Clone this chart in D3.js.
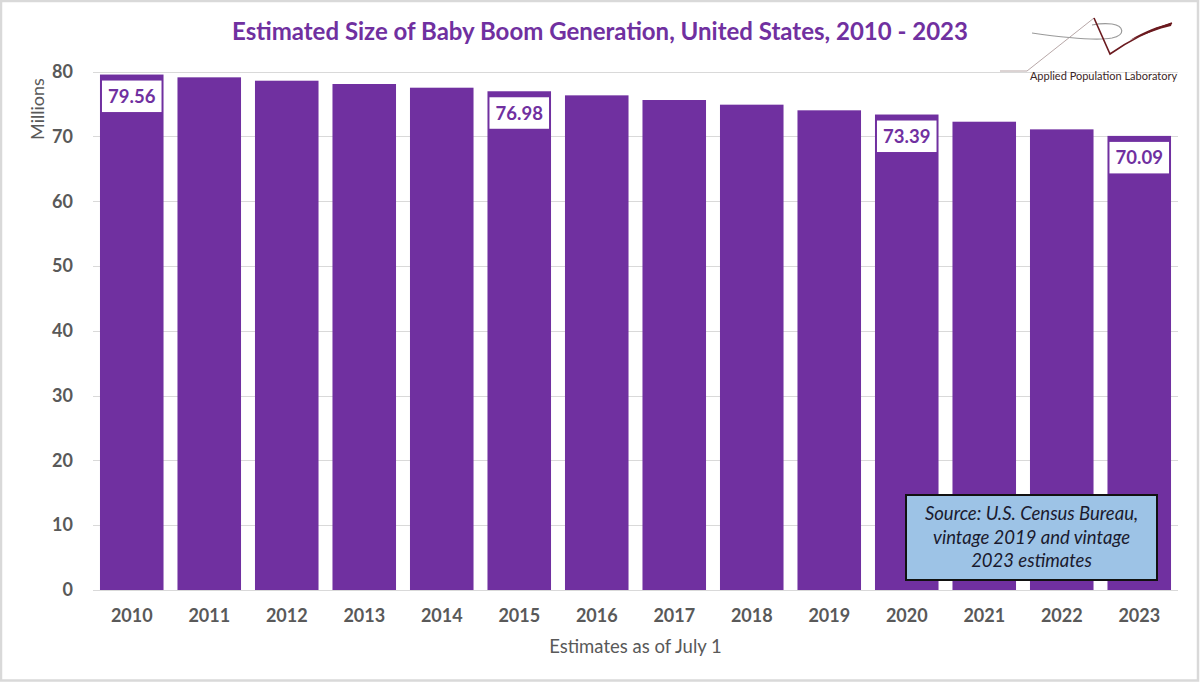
<!DOCTYPE html>
<html>
<head>
<meta charset="utf-8">
<script src="https://cdn.jsdelivr.net/npm/d3@7"></script>
<style>
  html, body { margin: 0; padding: 0; background: #fff; }
  svg { display: block; font-family: Lato, "Open Sans", sans-serif; }
</style>
</head>
<body>
<svg class="chart" width="1200" height="682"></svg>
<script>
const years = ["2010", "2011", "2012", "2013", "2014", "2015", "2016",
  "2017", "2018", "2019", "2020", "2021", "2022", "2023"];
const boomers = [79.56, 79.13, 78.61, 78.10, 77.53, 76.98, 76.35,
  75.63, 74.91, 74.04, 73.39, 72.28, 71.10, 70.09];
const labelledYears = ["2010", "2015", "2020", "2023"];
const yTicks = [0, 10, 20, 30, 40, 50, 60, 70, 80];
const sourceLines = ["Source: U.S. Census Bureau,", "vintage 2019 and vintage", "2023 estimates"];

const purple = "#7030a0";
const grey = "#595959";

const svg = d3.select(".chart");

// outer frame
svg.append("rect")
  .attr("x", 1).attr("y", 1)
  .attr("width", 1197).attr("height", 679.5)
  .attr("fill", "#fff")
  .attr("stroke", "#d9d9d9")
  .attr("stroke-width", 2.5);

const x = d3.scaleBand()
  .domain(years)
  .range([93, 1178])
  .paddingInner(0.18)
  .paddingOuter(0.09);

const y = d3.scaleLinear()
  .domain([0, 80])
  .range([590, 71.7]);

// grid lines
svg.append("g")
  .selectAll("line")
  .data(yTicks)
  .join("line")
  .attr("x1", 93)
  .attr("x2", 1178)
  .attr("y1", (d) => Math.round(y(d)) + 0.5)
  .attr("y2", (d) => Math.round(y(d)) + 0.5)
  .attr("stroke", "#d9d9d9")
  .attr("stroke-width", 1);

// y axis labels
const yAxis = svg.append("g")
  .attr("transform", "translate(93,0)")
  .call(d3.axisLeft(y).tickValues(yTicks).tickSize(0).tickPadding(20));
yAxis.select(".domain").remove();
yAxis.selectAll("text")
  .attr("fill", grey)
  .style("font-size", "18px")
  .style("font-weight", "bold")
  .style("font-family", "Lato, sans-serif");

// x axis labels
const xAxis = svg.append("g")
  .attr("transform", "translate(0,590)")
  .call(d3.axisBottom(x).tickSize(0).tickPadding(19));
xAxis.select(".domain").remove();
xAxis.selectAll("text")
  .attr("fill", grey)
  .style("font-size", "18px")
  .style("font-weight", "bold")
  .style("font-family", "Lato, sans-serif");

// bars
svg.append("g")
  .selectAll("rect")
  .data(years)
  .join("rect")
  .attr("x", (d) => x(d))
  .attr("y", (d, i) => y(boomers[i]))
  .attr("width", x.bandwidth())
  .attr("height", (d, i) => y(0) - y(boomers[i]))
  .attr("fill", purple);

// value labels in white boxes
const labelData = labelledYears.map((yr) => ({ year: yr, value: boomers[years.indexOf(yr)] }));
const labels = svg.append("g")
  .selectAll("g")
  .data(labelData)
  .join("g")
  .attr("transform", (d) => `translate(${x(d.year)},${y(d.value)})`);

labels.append("rect")
  .attr("x", 2)
  .attr("y", 6)
  .attr("width", x.bandwidth() - 4)
  .attr("height", 31.5)
  .attr("fill", "#fff");

labels.append("text")
  .attr("x", x.bandwidth() / 2)
  .attr("y", 22)
  .attr("dy", "0.35em")
  .attr("text-anchor", "middle")
  .attr("fill", purple)
  .style("font-size", "18.5px")
  .style("font-weight", "bold")
  .text((d) => d.value.toFixed(2));

// title
svg.append("text")
  .attr("x", 600)
  .attr("y", 40)
  .attr("text-anchor", "middle")
  .attr("fill", purple)
  .style("font-size", "24px")
  .style("font-weight", "bold")
  .text("Estimated Size of Baby Boom Generation, United States, 2010 - 2023");

// axis titles
svg.append("text")
  .attr("transform", "translate(44,109) rotate(-90)")
  .attr("text-anchor", "middle")
  .attr("fill", grey)
  .style("font-size", "18px")
  .text("Millions");

svg.append("text")
  .attr("x", (93 + 1178) / 2)
  .attr("y", 653)
  .attr("text-anchor", "middle")
  .attr("fill", grey)
  .style("font-size", "18.5px")
  .text("Estimates as of July 1");

// source box
const src = svg.append("g").attr("transform", "translate(906,495)");
src.append("rect")
  .attr("width", 251)
  .attr("height", 85)
  .attr("fill", "#9dc3e6")
  .attr("stroke", "#111")
  .attr("stroke-width", 2);
src.selectAll("text")
  .data(sourceLines)
  .join("text")
  .attr("x", 125.5)
  .attr("y", (d, i) => 19 + i * 23.5)
  .attr("dy", "0.35em")
  .attr("text-anchor", "middle")
  .attr("fill", "#1a1a2e")
  .style("font-size", "18.5px")
  .style("font-style", "italic")
  .text((d) => d);

// logo (Applied Population Laboratory)
const logo = svg.append("g");
logo.append("path")
  .attr("d", "M1000,71 L1027,71 L1094,18")
  .attr("fill", "none")
  .attr("stroke", "#b8a8a8")
  .attr("stroke-width", 1);
logo.append("path")
  .attr("d", "M1032,33 C1060,37 1095,41 1112,38 C1126,35 1124,26 1112,24 C1104,23 1097,24 1092,25")
  .attr("fill", "none")
  .attr("stroke", "#9a9a9a")
  .attr("stroke-width", 1.2);
logo.append("path")
  .attr("d", "M1094,18 L1110,54 C1130,40 1150,30 1172,23")
  .attr("fill", "none")
  .attr("stroke", "#6b1a1f")
  .attr("stroke-width", 1.6);
logo.append("path")
  .attr("d", "M1130,40 C1145,31 1158,26 1172,23 L1171,26 C1158,29 1145,34 1130,40 Z")
  .attr("fill", "#6b1a1f");
logo.append("text")
  .attr("x", 1103.5)
  .attr("y", 80)
  .attr("text-anchor", "middle")
  .attr("fill", "#3b2626")
  .style("font-size", "11px")
  .text("Applied Population Laboratory");
</script>
</body>
</html>
